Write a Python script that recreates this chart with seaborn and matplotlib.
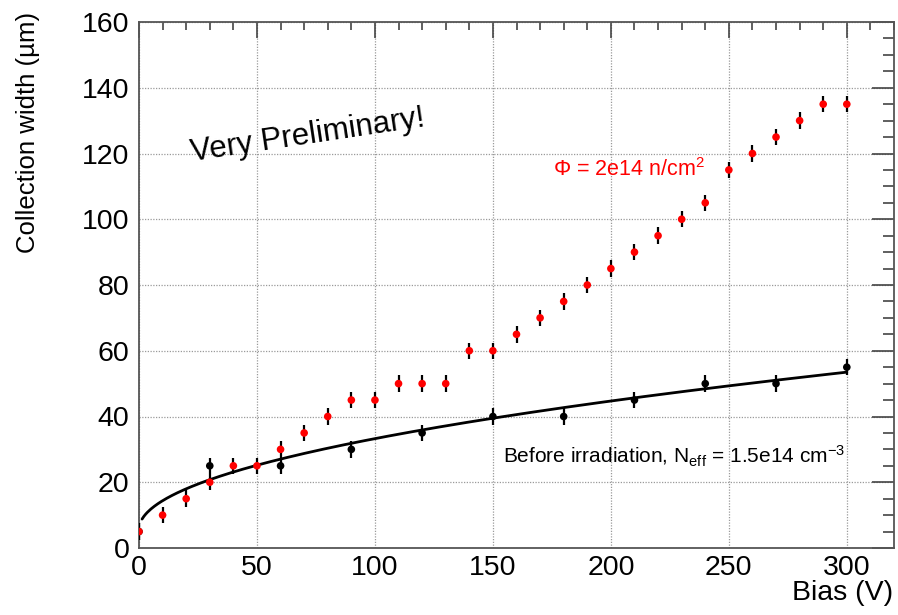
import numpy as np
import pandas as pd
import matplotlib
matplotlib.use("Agg")
import matplotlib.pyplot as plt
from matplotlib.ticker import MultipleLocator
import seaborn as sns

# Irradiated sensor (Phi = 2e14 n/cm^2)
bias_irr = [0, 10, 20, 30, 40, 50, 60, 70, 80, 90, 100, 110, 120, 130, 140, 150,
            160, 170, 180, 190, 200, 210, 220, 230, 240, 250, 260, 270, 280, 290, 300]
width_irr = [5, 10, 15, 20, 25, 25, 30, 35, 40, 45, 45, 50, 50, 50, 60, 60,
             65, 70, 75, 80, 85, 90, 95, 100, 105, 115, 120, 125, 130, 135, 135]

# Sensor before irradiation
bias_new = [0, 30, 60, 90, 120, 150, 180, 210, 240, 270, 300]
width_new = [5, 25, 25, 30, 35, 40, 40, 45, 50, 50, 55]

# Uncertainty on each collection width (um)
width_err = 2.5

# Depletion fit w = a + b*sqrt(V) for the unirradiated sensor
fit_a = 5.65
fit_b = 2.762
fit_vmin = 1.3
fit_vmax = 300

x_ticks_major = [0, 50, 100, 150, 200, 250, 300]
y_ticks_major = [0, 20, 40, 60, 80, 100, 120, 140, 160]

sns.set_style("white")
plt.rcParams["font.family"] = ["Liberation Sans", "DejaVu Sans"]
plt.rcParams["text.color"] = "black"
plt.rcParams["axes.labelcolor"] = "black"
plt.rcParams["mathtext.fontset"] = "custom"
plt.rcParams["mathtext.rm"] = "Liberation Sans"
plt.rcParams["mathtext.it"] = "Liberation Sans:italic"
plt.rcParams["mathtext.bf"] = "Liberation Sans:bold"

fig = plt.figure(figsize=(8.98, 6.15), dpi=100)
ax = fig.add_axes([139 / 898, 67 / 615, 755 / 898, 526 / 615])

df_new = pd.DataFrame({"bias": bias_new, "width": width_new})
df_irr = pd.DataFrame({"bias": bias_irr, "width": width_irr})

# Unirradiated points
ax.errorbar(df_new["bias"], df_new["width"], yerr=width_err, fmt="none",
            ecolor="black", elinewidth=1.6, capsize=0, zorder=3)
sns.scatterplot(data=df_new, x="bias", y="width", color="black", s=30,
                edgecolor="none", ax=ax, zorder=4)

# Fit curve
v_fit = np.linspace(fit_vmin, fit_vmax, 400)
df_fit = pd.DataFrame({"bias": v_fit, "width": fit_a + fit_b * np.sqrt(v_fit)})
sns.lineplot(data=df_fit, x="bias", y="width", color="black", linewidth=2.0,
             ax=ax, zorder=5)

# Irradiated points
ax.errorbar(df_irr["bias"], df_irr["width"], yerr=width_err, fmt="none",
            ecolor="black", elinewidth=1.6, capsize=0, zorder=6)
sns.scatterplot(data=df_irr, x="bias", y="width", color="red", s=30,
                edgecolor="none", ax=ax, zorder=7)

ax.set_xlim(0, 320)
ax.set_ylim(0, 160)
ax.set_xticks(x_ticks_major)
ax.set_yticks(y_ticks_major)
ax.xaxis.set_minor_locator(MultipleLocator(10))
ax.yaxis.set_minor_locator(MultipleLocator(5))
ax.set_xlabel("")
ax.set_ylabel("")

ax.grid(True, which="major", color="#9a9a9a", linestyle=(0, (1, 1.2)), linewidth=0.9)
ax.set_axisbelow(True)

for s in ax.spines.values():
    s.set_color("#555555")
    s.set_linewidth(1.3)

ax.tick_params(axis="both", which="both", direction="in", top=True, right=True,
               color="#444444", width=1.2, labelsize=20.5, labelcolor="black")
ax.tick_params(axis="x", which="major", length=11.5, pad=5)
ax.tick_params(axis="x", which="minor", length=6)
ax.tick_params(axis="y", which="major", length=16, pad=7)
ax.tick_params(axis="y", which="minor", length=8)

# Axis titles
fig.text(28 / 898, 1 - 12 / 615, "Collection width (µm)", rotation=90,
         ha="center", va="top", fontsize=18.5, color="black")
fig.text(893 / 898, 1 - 593 / 615, "Bias (V)", ha="right", va="center",
         fontsize=20.5, color="black")

# Annotations
ax.text(71.5, 125.5, "Very Preliminary!", rotation=8.5, rotation_mode="anchor",
        ha="center", va="center", fontsize=22.5, color="black")
ax.text(175.5, 113.2, "Φ = 2e14 n/cm$^{2}$", ha="left", va="baseline",
        fontsize=15.5, color="red")
ax.text(154.3, 25.8, r"Before irradiation, N$_{\mathrm{eff}}$ = 1.5e14 cm$^{-3}$",
        ha="left", va="baseline", fontsize=15, color="black")

fig.savefig("out.png", dpi=100)
